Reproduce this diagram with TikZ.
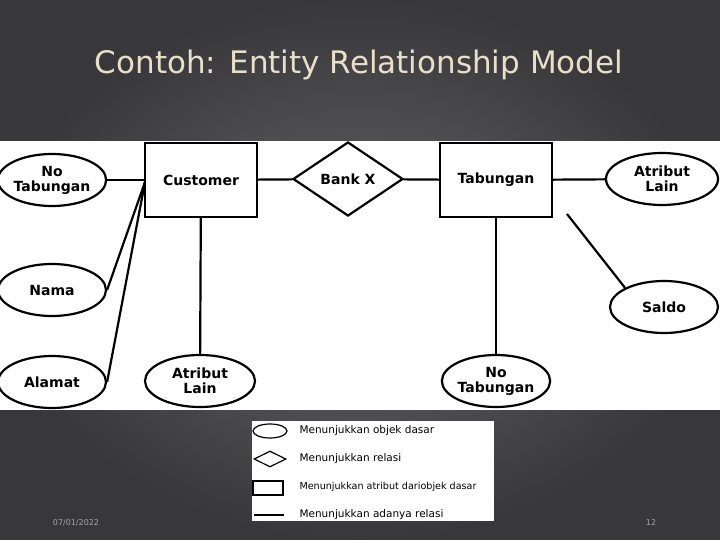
\documentclass[tikz,border=0pt]{standalone}
\usepackage{fontspec}
\setmainfont{DejaVu Sans}
\usetikzlibrary{shapes.geometric}
\definecolor{bgc}{HTML}{66666A}
\definecolor{bgd}{HTML}{38383A}
\definecolor{titc}{HTML}{E8E0C8}
\begin{document}
\begin{tikzpicture}[x=1pt,y=-1pt,
 ent/.style={draw,line width=2.2pt,fill=white,minimum width=112pt,minimum height=74pt,font=\bfseries\fontsize{14}{15}\selectfont},
 att/.style={draw,ellipse,line width=2.2pt,fill=white,inner sep=0pt,minimum width=108pt,minimum height=52pt,align=center,font=\bfseries\fontsize{14}{15}\selectfont},
 rel/.style={draw,diamond,aspect=1.5,line width=2.2pt,fill=white,inner sep=0pt,minimum width=110pt,minimum height=74pt,font=\bfseries\fontsize{14}{15}\selectfont},
 ln/.style={line width=2.2pt},
 leg/.style={anchor=west,font=\fontsize{10.5}{12}\selectfont}]
\useasboundingbox (0,0) rectangle (720,540);
\shade[inner color=bgc,outer color=bgd] (0,0) rectangle (720,540);
\node[font=\fontsize{31}{34}\selectfont,text=titc] (title) at (359,65) {Contoh: Entity Relationship Model};
\fill[white] (0,141) rectangle (720,410);
\node[ent] (cust) at (201,180) {Customer};
\node[ent] (tab) at (496,180) {Tabungan};
\node[rel] (bank) at (348,179) {Bank X};
\node[att] (notab1) at (52,180) {No\\Tabungan};
\node[att] (nama) at (52,290) {Nama};
\node[att] (alamat) at (52,382) {Alamat};
\node[att,minimum width=110pt] (atl1) at (200,381) {Atribut\\Lain};
\node[att,minimum width=112pt] (atl2) at (662,179) {Atribut\\Lain};
\node[att] (saldo) at (664,307) {Saldo};
\node[att] (notab2) at (496,381) {No\\Tabungan};
\coordinate (cl) at (145,182);
\coordinate (tq) at (567,214);
\draw[ln] (notab1) -- (cust);
\draw[ln] (cl) -- (nama.east);
\draw[ln] (cl) -- (alamat.east);
\draw[ln] (cust) -- (bank);
\draw[ln] (bank) -- (tab);
\draw[ln] (tab) -- (atl2);
\draw[ln] (tq) -- (saldo.north west);
\draw[ln] (cust) -- (atl1);
\draw[ln] (tab) -- (notab2);
% legend
\fill[white] (252,421) rectangle (494,521);
\node[draw,ellipse,line width=1.2pt,minimum width=34pt,minimum height=14pt,inner sep=0pt] (le) at (270,431) {};
\node[draw,diamond,aspect=2,line width=1.2pt,minimum width=32pt,minimum height=16pt,inner sep=0pt] (ld) at (270,459) {};
\node[draw,line width=1.2pt,minimum width=30pt,minimum height=14pt,inner sep=0pt] (lr) at (268,488) {};
\coordinate (l1) at (254,515); \coordinate (l2) at (284,515);
\draw[line width=1.2pt] (l1) -- (l2);
\node[leg] (t1) at (296,431) {Menunjukkan objek dasar};
\node[leg] (t2) at (296,459) {Menunjukkan relasi};
\node[leg,font=\fontsize{9.6}{11}\selectfont] (t3) at (296,487) {Menunjukkan atribut dariobjek dasar};
\node[leg] (t4) at (296,515) {Menunjukkan adanya relasi};
\node[text=gray!70,font=\fontsize{8}{9}\selectfont] (date) at (76,523) {07/01/2022};
\node[text=gray!70,font=\fontsize{8}{9}\selectfont] (pg) at (651,523) {12};
\end{tikzpicture}
\end{document}
